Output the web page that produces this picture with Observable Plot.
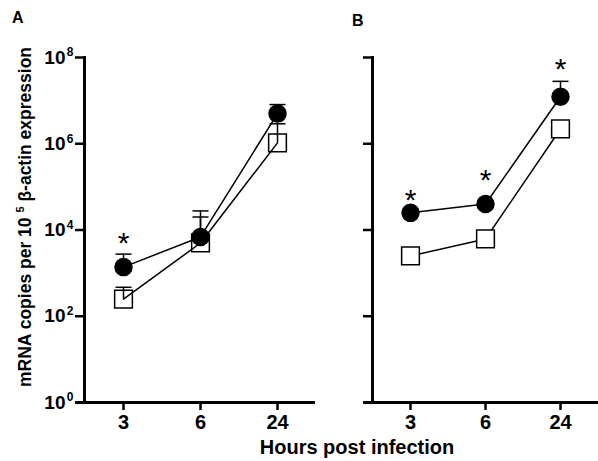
<!DOCTYPE html>
<html><head><meta charset="utf-8">
<script src="https://cdn.jsdelivr.net/npm/d3@7"></script>
<script src="https://cdn.jsdelivr.net/npm/@observablehq/plot@0.6"></script>
<style>
body{margin:0;background:#fff;}
#wrap{position:relative;width:598px;height:461px;font-family:"Liberation Sans",Arial,sans-serif;font-weight:bold;color:#000;overflow:hidden;background:#fff}
#wrap svg{position:absolute;top:0;overflow:visible}
.lab{position:absolute;white-space:nowrap;line-height:1}
</style></head><body>
<div id="wrap">
  <div class="lab" style="left:12px;top:10px;font-size:16px">A</div>
  <div class="lab" style="left:352px;top:13px;font-size:16px">B</div>
  <div class="lab" id="ylab" style="left:25px;top:217px;font-size:17.5px;transform:translate(-50%,-50%) rotate(-90deg)">mRNA copies per 10 <sup style="font-size:11px;vertical-align:7px">5</sup> β-actin expression</div>
  <div class="lab" style="left:357px;top:437px;font-size:20px;transform:translateX(-50%)">Hours post infection</div>
</div>
<script>
const hours = ["3", "6", "24"];
const yTicks = [1, 1e2, 1e4, 1e6, 1e8];

// Panel A
const aCircle    = [1380, 6900, 5.0e6];
const aCircleErr = [2760, 27700, 8.1e6];
const aSquare    = [250, 5000, 1.05e6];
const aSquareErr = [470, 20000, 2.9e6];
const aStarHours = ["3"];
const aStarY     = [7650];

// Panel B
const bCircle    = [25000, 40000, 1.23e7];
const bCircleErr = [25000, 40000, 2.8e7];
const bSquare    = [2500, 6200, 2.2e6];
const bSquareErr = [2500, 6200, 2.2e6];
const bStarHours = ["3", "6", "24"];
const bStarY     = [72700, 2.2e5, 8.1e7];

function rows(vals, errs, group) {
  return hours.map((h, i) => ({hour: h, value: vals[i], err: errs[i], group}));
}
function stars(hs, ys) { return hs.map((h, i) => ({hour: h, y: ys[i]})); }

const capSymbol = {
  draw(context, size) {
    const w = Math.sqrt(size / Math.PI);
    context.moveTo(-w, 0);
    context.lineTo(w, 0);
  }
};

function panel({width, marginLeft, marginRight, circles, squares, starRows, labels, squareFill}) {
  const all = circles.concat(squares);
  const withErr = all.filter(d => d.err > d.value);
  const marks = [
    Plot.ruleY([1], {stroke: "black", strokeWidth: 3, insetLeft: -9}),
    Plot.frame({anchor: "left", stroke: "black", strokeWidth: 3}),
    Plot.axisY({ticks: yTicks, tickSize: 9, strokeWidth: 2.5, tickFormat: () => ""}),
    Plot.axisX({tickSize: 8, strokeWidth: 2.5, tickPadding: 4, label: null, fontSize: 20}),
    Plot.line(all, {x: "hour", y: "value", z: "group", stroke: "black", strokeWidth: 1.5}),
    Plot.ruleX(withErr, {x: "hour", y1: "value", y2: "err", stroke: "black", strokeWidth: 1.5}),
    Plot.dot(withErr, {x: "hour", y: "err", symbol: capSymbol, r: 8, stroke: "black", strokeWidth: 1.5, fill: "none"}),
    Plot.dot(squares, {x: "hour", y: "value", symbol: "square", r: 10, stroke: "black", strokeWidth: 1.5, fill: squareFill}),
    Plot.dot(circles, {x: "hour", y: "value", r: 8.5, fill: "black", stroke: "black"}),
    Plot.text(starRows, {x: "hour", y: "y", text: () => "*", fontSize: 30, fontWeight: "normal", dy: 8})
  ];
  if (labels) {
    marks.push(Plot.text(yTicks, {y: d => d, text: () => "10", frameAnchor: "left", dx: -19, textAnchor: "end", fontSize: 19}));
    marks.push(Plot.text(yTicks, {y: d => d, text: d => String(Math.round(Math.log10(d))), frameAnchor: "left", dx: -11, dy: -5, textAnchor: "end", fontSize: 12}));
  }
  return Plot.plot({
    width, height: 461,
    marginLeft, marginRight, marginTop: 57, marginBottom: 59,
    x: {type: "point", domain: hours, padding: 0.5, axis: null},
    y: {type: "log", domain: [1, 1e8], axis: null},
    style: {background: "transparent", fontFamily: "Liberation Sans, Arial, sans-serif", fontWeight: "bold", fontSize: "20px", color: "black"},
    marks
  });
}

const wrap = document.getElementById("wrap");
const A = panel({width: 320, marginLeft: 84, marginRight: 5,
  circles: rows(aCircle, aCircleErr, "c"), squares: rows(aSquare, aSquareErr, "s"),
  starRows: stars(aStarHours, aStarY), labels: true, squareFill: "none"});
A.style.left = "0px";
const B = panel({width: 308, marginLeft: 82, marginRight: 0,
  circles: rows(bCircle, bCircleErr, "c"), squares: rows(bSquare, bSquareErr, "s"),
  starRows: stars(bStarHours, bStarY), labels: false, squareFill: "white"});
B.style.left = "290px";
wrap.appendChild(A);
wrap.appendChild(B);
</script>
</body></html>
